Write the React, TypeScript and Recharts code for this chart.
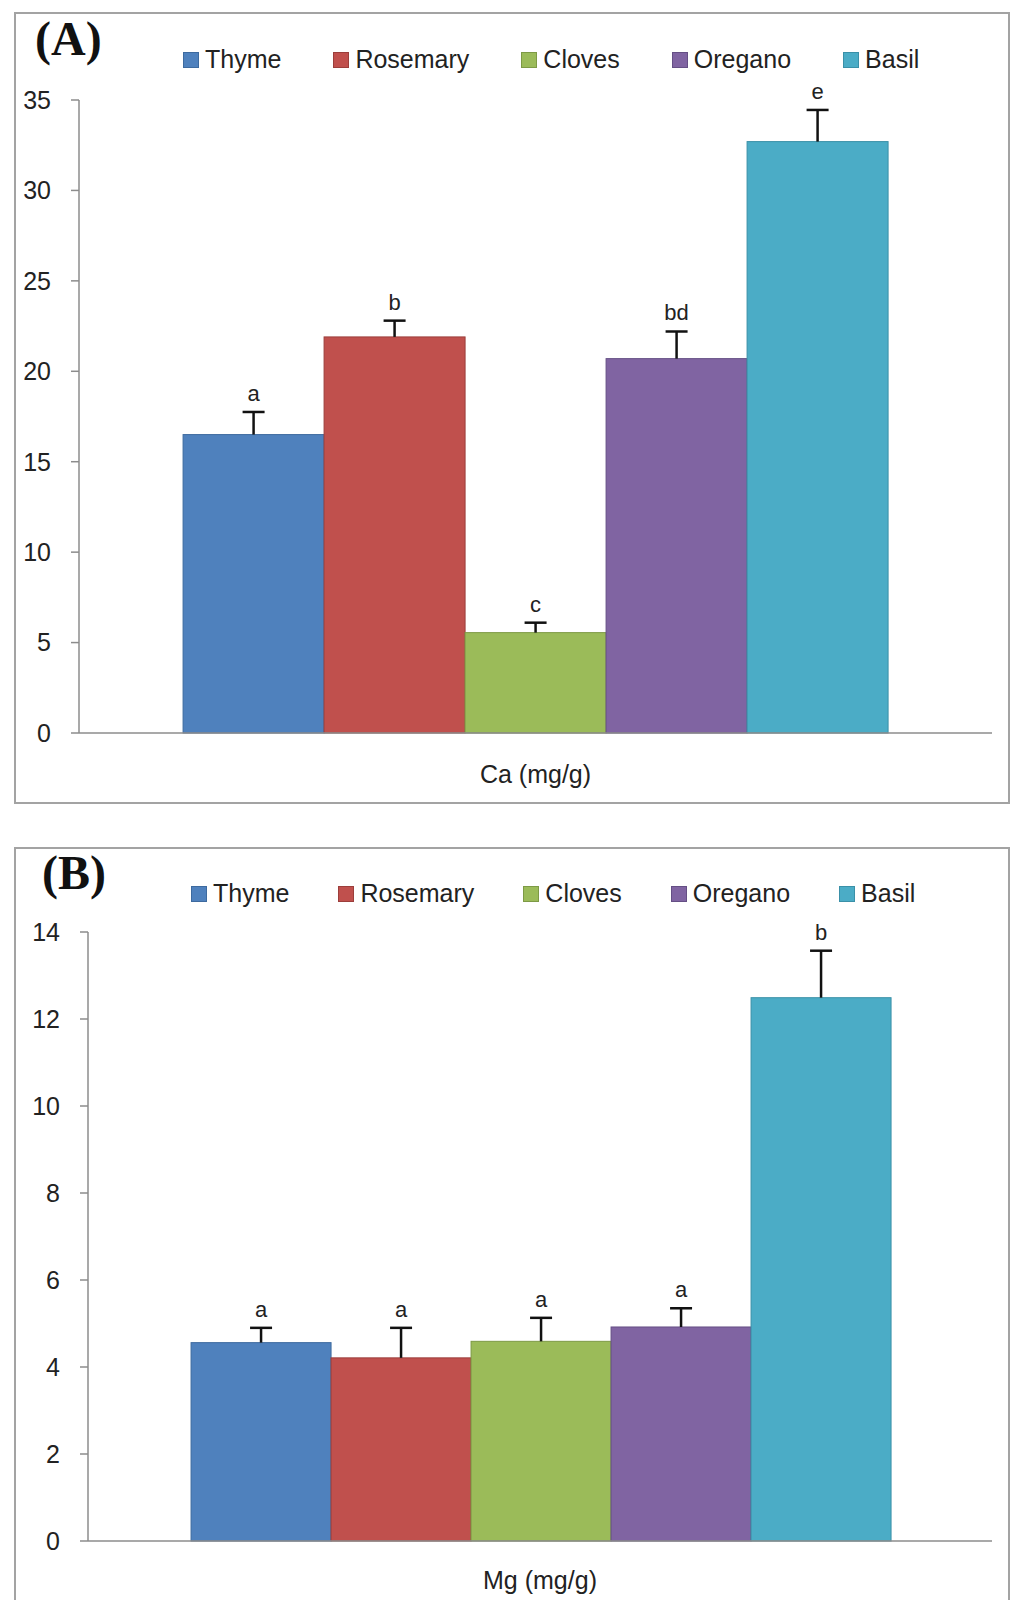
import React from "react";
import { Bar, BarChart, XAxis, YAxis } from "recharts";

const FONT = "'Liberation Sans', Arial, sans-serif";

// plants, in legend/bar order
const PLANTS = ["Thyme", "Rosemary", "Cloves", "Oregano", "Basil"];
const COLORS = ["#4f81bd", "#c0504d", "#9bbb59", "#8064a2", "#4bacc6"];
const EDGES = ["#3d6a9f", "#9c3e3b", "#7d9a45", "#654f85", "#3a90a8"];

// (A) calcium
const CA_LABEL = "Ca (mg/g)";
const CA_MEANS = [16.5, 21.9, 5.55, 20.7, 32.7];
const CA_ERRORS = [1.25, 0.9, 0.55, 1.5, 1.75];
const CA_LETTERS = ["a", "b", "c", "bd", "e"];
const CA_TICKS = [0, 5, 10, 15, 20, 25, 30, 35];

// (B) magnesium
const MG_LABEL = "Mg (mg/g)";
const MG_MEANS = [4.56, 4.21, 4.59, 4.92, 12.49];
const MG_ERRORS = [0.34, 0.69, 0.54, 0.43, 1.08];
const MG_LETTERS = ["a", "a", "a", "a", "b"];
const MG_TICKS = [0, 2, 4, 6, 8, 10, 12, 14];

// bar + one-sided error bar + significance letter
const barShape = (mean: number, err: number, letter: string, fill: string, edge: string) =>
  (props: any) => {
    const { x, y, width, height } = props;
    const pxPerUnit = height / mean;
    const cx = x + width / 2;
    const capY = y - err * pxPerUnit;
    return (
      <g>
        <rect x={x} y={y} width={width} height={height} fill={fill} stroke={edge} strokeWidth={1} />
        <line x1={cx} y1={y} x2={cx} y2={capY} stroke="#111" strokeWidth={2.5} />
        <line x1={cx - 11} y1={capY} x2={cx + 11} y2={capY} stroke="#111" strokeWidth={2.5} />
        <text x={cx} y={capY - 11} textAnchor="middle" fontSize={22} fontFamily={FONT} fill="#222">
          {letter}
        </text>
      </g>
    );
  };

function Legend({ left, top, gap }: { left: number; top: number; gap: number }) {
  return (
    <div
      style={{
        position: "absolute",
        left,
        top,
        display: "flex",
        alignItems: "center",
        gap,
        fontFamily: FONT,
        fontSize: 25,
        lineHeight: "25px",
        color: "#222",
        whiteSpace: "nowrap",
      }}
    >
      {PLANTS.map((p, i) => (
        <div key={p} style={{ display: "flex", alignItems: "center" }}>
          <span
            style={{
              display: "inline-block",
              width: 16,
              height: 16,
              background: COLORS[i],
              border: `1px solid ${EDGES[i]}`,
              boxSizing: "border-box",
              marginRight: 6,
            }}
          />
          <span>{p}</span>
        </div>
      ))}
    </div>
  );
}

function MineralChart(props: {
  category: string;
  means: number[];
  errors: number[];
  letters: string[];
  ticks: number[];
  height: number;
  margin: { top: number; right: number; bottom: number; left: number };
  tickGap: number;
}) {
  const { category, means, errors, letters, ticks, height, margin, tickGap } = props;
  const row: Record<string, any> = { name: category };
  PLANTS.forEach((p, i) => (row[p] = means[i]));

  return (
    <BarChart
      width={1013}
      height={height}
      data={[row]}
      margin={margin}
      barCategoryGap="11.4%"
      barGap={0}
    >
      <XAxis
        dataKey="name"
        height={40}
        axisLine={{ stroke: "#8c8c8c", strokeWidth: 1.5 }}
        tickLine={false}
        tickSize={0}
        tickMargin={tickGap}
        tick={{ fill: "#222", fontSize: 25, fontFamily: FONT }}
      />
      <YAxis
        width={60}
        domain={[0, ticks[ticks.length - 1]]}
        ticks={ticks}
        interval={0}
        axisLine={{ stroke: "#8c8c8c", strokeWidth: 1.5 }}
        tickLine={{ stroke: "#8c8c8c", strokeWidth: 1.5 }}
        tickSize={8}
        tickMargin={20}
        tick={{ fill: "#222", fontSize: 25, fontFamily: FONT }}
      />
      {PLANTS.map((p, i) => (
        <Bar
          key={p}
          dataKey={p}
          fill={COLORS[i]}
          isAnimationActive={false}
          shape={barShape(means[i], errors[i], letters[i], COLORS[i], EDGES[i])}
        />
      ))}
    </BarChart>
  );
}

const frame: React.CSSProperties = {
  position: "absolute",
  left: 14,
  width: 996,
  border: "2px solid #a3a3a3",
  boxSizing: "border-box",
};

const panelTag: React.CSSProperties = {
  position: "absolute",
  fontFamily: "'Liberation Serif', 'Times New Roman', serif",
  fontWeight: "bold",
  fontSize: 48,
  lineHeight: "48px",
  color: "#111",
};

export default function App() {
  return (
    <div
      style={{
        position: "absolute",
        left: 0,
        top: 0,
        width: 1013,
        height: 1600,
        overflow: "hidden",
        background: "#fff",
      }}
    >
      <div style={{ ...frame, top: 12, height: 792 }} />
      <div style={{ ...frame, top: 847, height: 800 }} />

      <div style={{ ...panelTag, left: 35, top: 15 }}>(A)</div>
      <div style={{ ...panelTag, left: 42, top: 849 }}>(B)</div>

      <Legend left={183} top={47} gap={52} />
      <Legend left={191} top={881} gap={49} />

      <div style={{ position: "absolute", left: 0, top: 0 }}>
        <MineralChart
          category={CA_LABEL}
          means={CA_MEANS}
          errors={CA_ERRORS}
          letters={CA_LETTERS}
          ticks={CA_TICKS}
          height={800}
          margin={{ top: 100, right: 21, bottom: 27, left: 19 }}
          tickGap={32}
        />
      </div>
      <div style={{ position: "absolute", left: 0, top: 840 }}>
        <MineralChart
          category={MG_LABEL}
          means={MG_MEANS}
          errors={MG_ERRORS}
          letters={MG_LETTERS}
          ticks={MG_TICKS}
          height={760}
          margin={{ top: 92, right: 21, bottom: 19, left: 28 }}
          tickGap={30}
        />
      </div>
    </div>
  );
}
